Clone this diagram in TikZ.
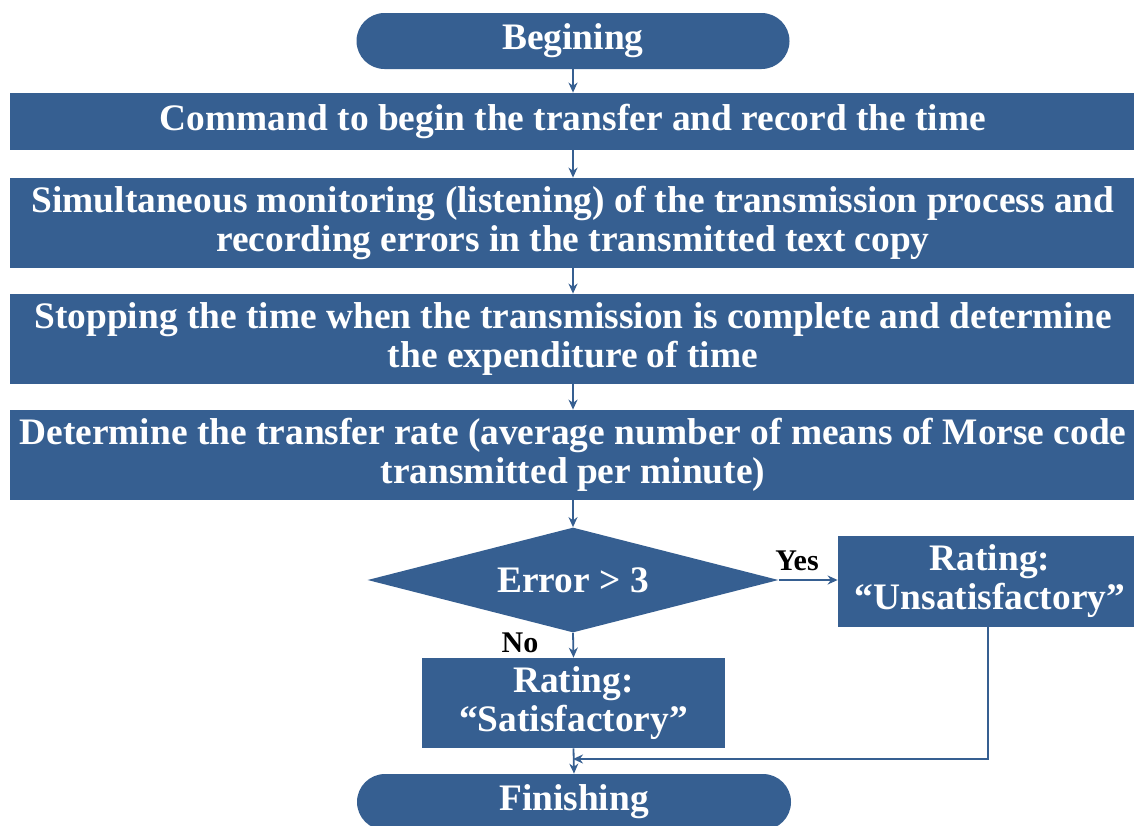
\documentclass[tikz,border=0pt]{standalone}
\usepackage{fontspec}
\setmainfont{Liberation Serif}
\usetikzlibrary{shapes.geometric,arrows.meta}
\definecolor{blu}{RGB}{54,95,145}
\begin{document}
\begin{tikzpicture}[x=0.5pt,y=-0.5pt,
  boxstyle/.style={fill=blu,text=white,inner sep=0pt,align=center,
    font=\fontsize{18.7}{19.5}\selectfont\bfseries},
  stepbox/.style={boxstyle,rectangle,minimum width=563pt},
  termbox/.style={boxstyle,rectangle,rounded corners=14pt,minimum width=216.5pt,minimum height=28pt},
  decbox/.style={boxstyle,diamond,aspect=3.9,minimum width=205.5pt,minimum height=52.5pt},
  conn/.style={draw=blu,line width=0.9pt,-{Stealth[length=5pt,width=4.5pt]}},
  lab/.style={font=\fontsize{15}{16}\selectfont\bfseries,text=black,inner sep=0pt}]
\clip (0,0) rectangle (1134,825);
\fill[white] (0,0) rectangle (1134,825);
\node[termbox] (begin) at (573,41) {Begining};
\node[stepbox,minimum height=28.5pt] (s1) at (573,121.5) {Command to begin the transfer and record the time};
\node[stepbox,minimum height=45pt] (s2) at (573,223) {Simultaneous monitoring (listening) of the transmission process and\\recording errors in the transmitted text copy};
\node[stepbox,minimum height=45pt] (s3) at (573,339) {Stopping the time when the transmission is complete and determine\\the expenditure of time};
\node[stepbox,minimum height=45pt] (s4) at (573,455) {Determine the transfer rate (average number of means of Morse code\\transmitted per minute)};
\node[decbox] (dec) at (573,580) {Error > 3};
\node[stepbox,minimum width=152pt,minimum height=45.5pt] (unsat) at (990,581.5) {Rating:\\“Unsatisfactory”};
\node[stepbox,minimum width=151.5pt,minimum height=45pt] (sat) at (573.5,703) {Rating:\\“Satisfactory”};
\node[termbox,minimum width=217pt] (fin) at (574,802) {Finishing};
\coordinate (merge) at (573,759);
\draw[conn] (begin.south) -- (s1.north);
\draw[conn] (s1.south) -- (s2.north);
\draw[conn] (s2.south) -- (s3.north);
\draw[conn] (s3.south) -- (s4.north);
\draw[conn] (s4.south) -- (dec.north);
\draw[conn] (dec.east) -- (dec.east -| unsat.west);
\node[lab] (yes) at (797,561) {Yes};
\draw[conn] (dec.south) -- (sat.north);
\node[lab] (no) at (520,643) {No};
\draw[conn] (sat.south) -- (fin.north);
\draw[conn] (unsat.south -| 988,0) |- (merge);
\end{tikzpicture}
\end{document}
